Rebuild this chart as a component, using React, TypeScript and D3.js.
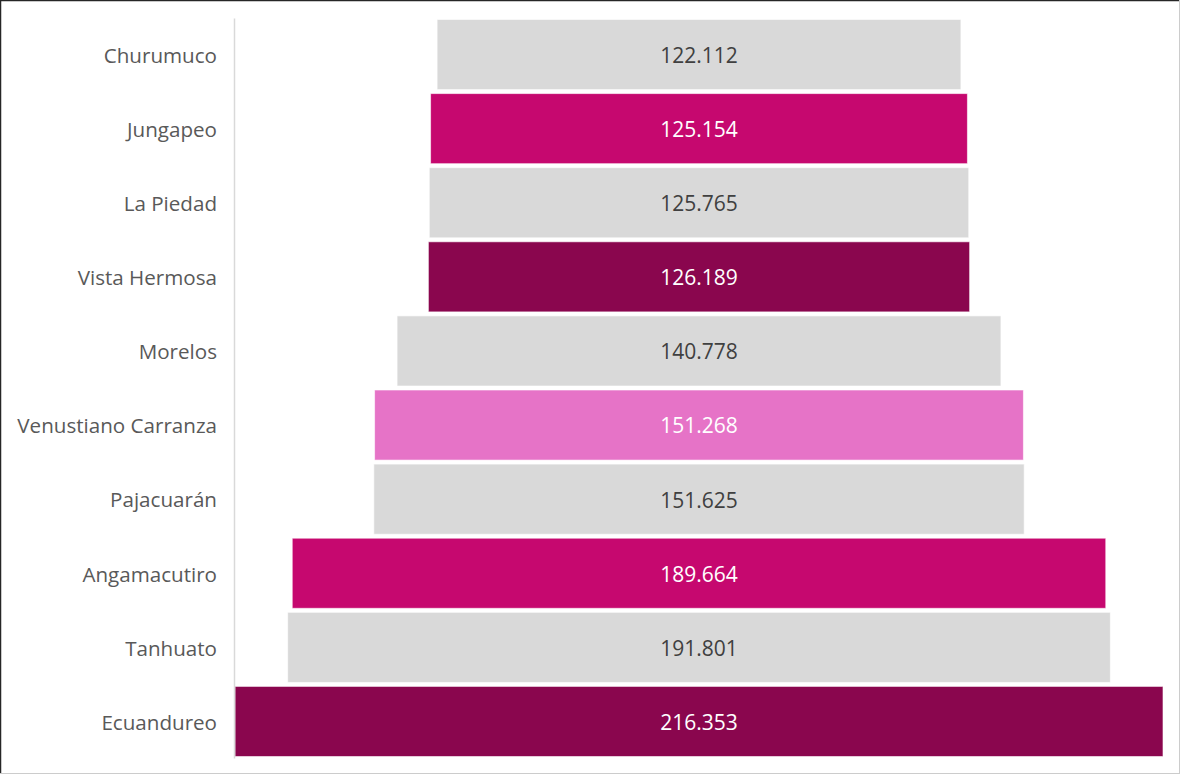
import React, { useRef, useEffect } from 'react';
import * as d3 from 'd3';

const municipios = ['Churumuco', 'Jungapeo', 'La Piedad', 'Vista Hermosa', 'Morelos', 'Venustiano Carranza', 'Pajacuarán', 'Angamacutiro', 'Tanhuato', 'Ecuandureo'];
const valores = [122.112, 125.154, 125.765, 126.189, 140.778, 151.268, 151.625, 189.664, 191.801, 216.353];
const colores = ['#d9d9d9', '#c6086f', '#d9d9d9', '#8a064e', '#d9d9d9', '#e673c7', '#d9d9d9', '#c6086f', '#d9d9d9', '#8a064e'];

export default function App() {
    const svgRef = useRef<SVGSVGElement>(null);
    const width = 1180;
    const height = 775;
    const margin = { top: 18, right: 17, bottom: 17, left: 235 };

    useEffect(() => {
        const svg = d3.select(svgRef.current);
        svg.selectAll('*').remove();

        const data = municipios.map((m, i) => ({ name: m, value: valores[i], color: colores[i] }));
        const plotW = width - margin.left - margin.right;
        const cx = margin.left + plotW / 2;

        const y = d3.scaleBand()
            .domain(municipios)
            .range([margin.top, height - margin.bottom])
            .paddingInner(0.054)
            .paddingOuter(0.02);

        const w = d3.scaleLinear()
            .domain([0, d3.max(valores)!])
            .range([0, plotW]);

        // frame
        svg.append('rect')
            .attr('x', 0.5).attr('y', 0.5)
            .attr('width', width - 1).attr('height', height - 2)
            .attr('fill', 'white')
            .attr('stroke', '#cccccc');
        svg.append('path')
            .attr('d', `M0.5,${height - 2}V0.5H${width - 1}`)
            .attr('fill', 'none')
            .attr('stroke', '#262626')
            .attr('stroke-width', 1.5);

        // bars
        svg.append('g')
            .selectAll('rect')
            .data(data)
            .join('rect')
            .attr('x', d => cx - w(d.value) / 2)
            .attr('y', d => y(d.name)!)
            .attr('width', d => w(d.value))
            .attr('height', y.bandwidth())
            .attr('fill', d => d.color)
            .attr('stroke', 'white')
            .attr('stroke-opacity', 0.6)
            .attr('stroke-width', 1);

        // value labels
        svg.append('g')
            .selectAll('text')
            .data(data)
            .join('text')
            .attr('x', cx)
            .attr('y', d => y(d.name)! + y.bandwidth() / 2)
            .attr('dy', '0.4em')
            .attr('text-anchor', 'middle')
            .attr('font-family', 'Open Sans, sans-serif')
            .attr('font-size', 21)
            .attr('fill', d => d.color === '#d9d9d9' ? '#404040' : '#ffffff')
            .text(d => d.value.toFixed(3));

        // y axis
        svg.append('g')
            .attr('transform', `translate(${margin.left - 1},0)`)
            .call(d3.axisLeft(y).tickSize(0).tickPadding(17))
            .call(g => g.select('.domain').attr('stroke', '#d9d9d9').attr('stroke-width', 1.5))
            .call(g => g.selectAll('.tick text')
                .attr('dy', '0.4em')
                .attr('font-family', 'Open Sans, sans-serif')
                .attr('font-size', 20.6)
                .attr('fill', '#595959'));
    }, []);

    return <svg ref={svgRef} width={width} height={height} style={{ position: 'absolute', left: 0, top: 0 }} />;
}
